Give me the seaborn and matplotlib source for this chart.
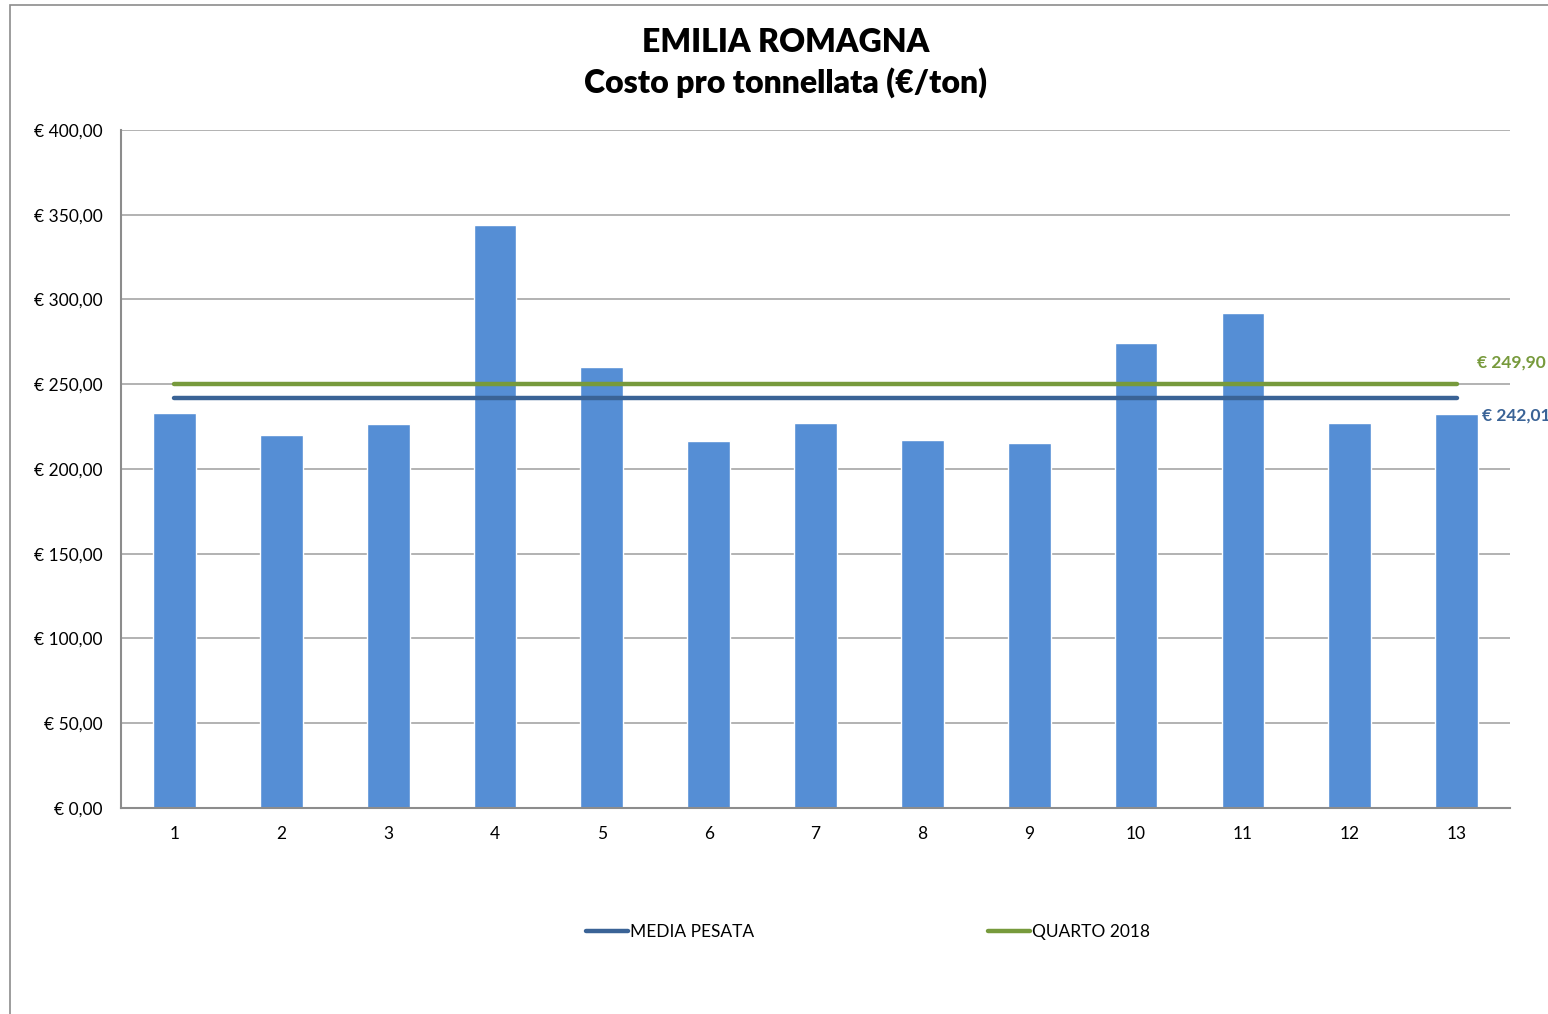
"""
Costo pro tonnellata - Emilia Romagna, bar chart with two reference lines.
"""
import numpy as np
import pandas as pd
import matplotlib
matplotlib.use("Agg")
import matplotlib.pyplot as plt
from matplotlib.patches import Rectangle
from matplotlib.ticker import FuncFormatter, MultipleLocator
import seaborn as sns

# data
CATEGORIES = [str(i) for i in range(1, 14)]
COSTS = [233.0, 220.1, 226.5, 344.0, 260.2, 216.5, 227.1, 217.1, 215.3, 274.3, 292.0, 227.1, 232.4]
MEDIA_PESATA = 242.01
QUARTO_2018 = 249.90

BAR_COLOR = "#558ED5"
BLUE_LINE = "#3A6396"
GREEN_LINE = "#779A3C"
GRID_GRAY = "#A6A6A6"

sns.set_style("white")
plt.rcParams["font.family"] = ["Lato", "DejaVu Sans"]
plt.rcParams["text.color"] = "black"
plt.rcParams["xtick.color"] = "black"
plt.rcParams["ytick.color"] = "black"


def euro(v, _pos=None):
    return "€ " + f"{v:.2f}".replace(".", ",")


def main():
    df = pd.DataFrame({"zona": CATEGORIES, "costo": COSTS})
    pos = np.arange(len(CATEGORIES))
    lines = pd.DataFrame({
        "x": np.concatenate([pos, pos]),
        "y": [MEDIA_PESATA] * len(pos) + [QUARTO_2018] * len(pos),
        "serie": ["MEDIA PESATA"] * len(pos) + ["QUARTO 2018"] * len(pos),
    })

    fig = plt.figure(figsize=(15.48, 10.14), dpi=100)
    ax = fig.add_axes([0.0782, 0.2032, 0.8973, 0.6686])

    sns.barplot(data=df, x="zona", y="costo", color=BAR_COLOR, width=0.4,
                saturation=1, ax=ax, zorder=2)
    sns.lineplot(data=lines, x="x", y="y", hue="serie",
                 palette={"MEDIA PESATA": BLUE_LINE, "QUARTO 2018": GREEN_LINE},
                 linewidth=3.2, solid_capstyle="round", legend=False, ax=ax, zorder=3)

    ax.set_xlim(-0.5, len(CATEGORIES) - 0.5)
    ax.set_ylim(0, 400)
    ax.yaxis.set_major_locator(MultipleLocator(50))
    ax.yaxis.set_major_formatter(FuncFormatter(euro))
    ax.grid(axis="y", color=GRID_GRAY, linewidth=1.2, zorder=0)
    ax.set_axisbelow(True)
    for side in ["top", "right"]:
        ax.spines[side].set_visible(False)
    for side in ["left", "bottom"]:
        ax.spines[side].set_color("#8C8C8C")
        ax.spines[side].set_linewidth(1.5)
    ax.tick_params(axis="y", length=0, pad=13, labelsize=12.5)
    ax.tick_params(axis="x", length=0, pad=13, labelsize=12.5)
    ax.set_xlabel("")
    ax.set_ylabel("")

    # end-of-line value labels
    ax.annotate(euro(QUARTO_2018), xy=(pos[-1], QUARTO_2018), xytext=(15, 16),
                textcoords="offset points", color=GREEN_LINE, fontsize=12.5,
                fontweight="bold", va="center", ha="left", annotation_clip=False)
    ax.annotate(euro(MEDIA_PESATA), xy=(pos[-1], MEDIA_PESATA), xytext=(18, -13),
                textcoords="offset points", color=BLUE_LINE, fontsize=12.5,
                fontweight="bold", va="center", ha="left", annotation_clip=False)

    fig.text(0.5077, 1 - 42 / 1014, "EMILIA ROMAGNA", ha="center", va="center",
             fontsize=23, fontweight="heavy")
    fig.text(0.5077, 1 - 83 / 1014, "Costo pro tonnellata (€/ton)", ha="center",
             va="center", fontsize=23, fontweight="heavy")

    handles = [plt.Line2D([], [], color=BLUE_LINE, linewidth=3.2, solid_capstyle="round"),
               plt.Line2D([], [], color=GREEN_LINE, linewidth=3.2, solid_capstyle="round")]
    fig.legend(handles, ["MEDIA PESATA", "QUARTO 2018"], loc="center",
               bbox_to_anchor=(868 / 1548, 1 - 932 / 1014), ncol=2, frameon=False,
               fontsize=12.5, handlelength=2.4, handletextpad=0.1, columnspacing=13.5)

    # chart-area border (Excel style), cut off at right and bottom
    fig.patches.append(Rectangle((10 / 1548, -0.05), 1.2, 1.05 - 5 / 1014,
                                 transform=fig.transFigure, fill=False,
                                 edgecolor="#8C8C8C", linewidth=1.2))

    fig.savefig("out.png", dpi=100)
    plt.close(fig)


if __name__ == "__main__":
    main()
